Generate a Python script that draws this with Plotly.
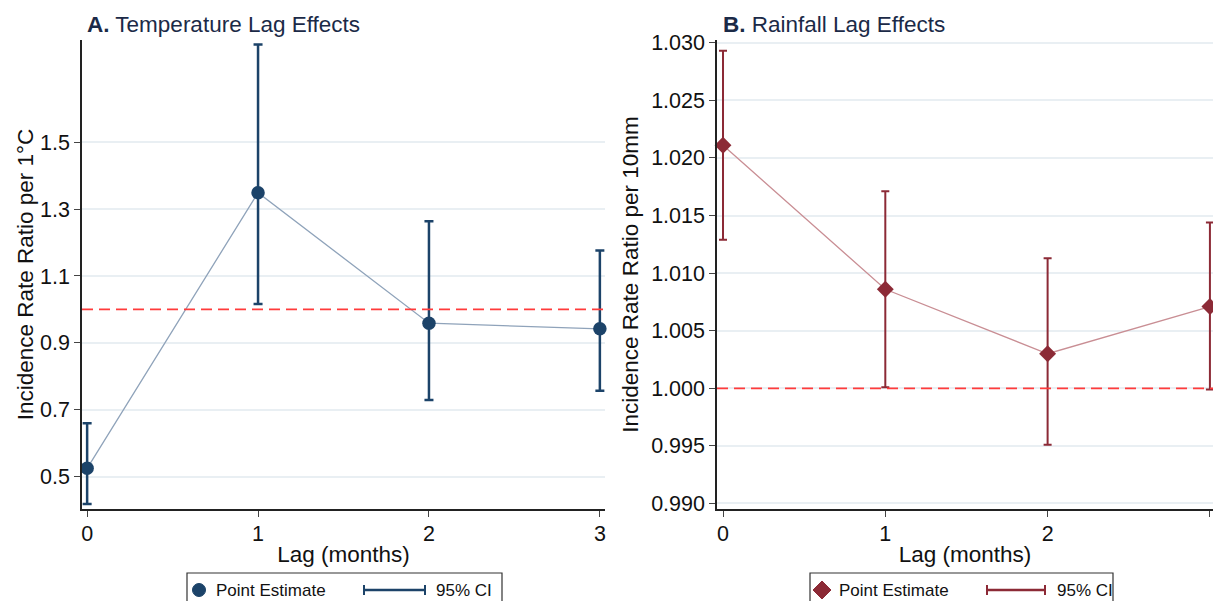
import plotly.graph_objects as go

# ---------------- data ----------------
lags = [0, 1, 2, 3]
lag_ticks = ["0", "1", "2", "3"]

temp_irr = [0.525, 1.349, 0.959, 0.942]
temp_lo = [0.418, 1.016, 0.729, 0.757]
temp_hi = [0.660, 1.792, 1.264, 1.176]
temp_ticks = [0.5, 0.7, 0.9, 1.1, 1.3, 1.5]

rain_irr = [1.0211, 1.0086, 1.0030, 1.0071]
rain_lo = [1.0129, 1.0001, 0.9951, 0.9999]
rain_hi = [1.0293, 1.0171, 1.0113, 1.0144]
rain_ticks = [0.990, 0.995, 1.000, 1.005, 1.010, 1.015, 1.020, 1.025, 1.030]

W, H = 1213, 601
FONT = "Liberation Sans, Arial, sans-serif"
NAVY = "#1c4369"
NAVY_LINE = "#8fa3ba"
RED = "#8c2a36"
RED_LINE = "#c98e94"
REF = "#ff3b3b"
GRID = "#e9eff3"


def px(x):
    return x / W


def py(y):
    return 1 - y / H


fig = go.Figure()

# Panel A
fig.add_trace(go.Scatter(x=lags, y=temp_irr, mode="lines", line=dict(color=NAVY_LINE, width=1.3),
                         xaxis="x", yaxis="y", showlegend=False, hoverinfo="skip", cliponaxis=False))
fig.add_trace(go.Scatter(
    x=lags, y=temp_irr, mode="markers", name="Point Estimate",
    marker=dict(color=NAVY, size=13.5, symbol="circle"),
    error_y=dict(type="data", symmetric=False,
                 array=[h - m for h, m in zip(temp_hi, temp_irr)],
                 arrayminus=[m - l for m, l in zip(temp_irr, temp_lo)],
                 color=NAVY, thickness=2.5, width=4.5),
    xaxis="x", yaxis="y", showlegend=False, cliponaxis=False))

# Panel B
fig.add_trace(go.Scatter(x=lags, y=rain_irr, mode="lines", line=dict(color=RED_LINE, width=1.3),
                         xaxis="x2", yaxis="y2", showlegend=False, hoverinfo="skip", cliponaxis=False))
fig.add_trace(go.Scatter(
    x=lags, y=rain_irr, mode="markers", name="Point Estimate",
    marker=dict(color=RED, size=13, symbol="diamond"),
    error_y=dict(type="data", symmetric=False,
                 array=[h - m for h, m in zip(rain_hi, rain_irr)],
                 arrayminus=[m - l for m, l in zip(rain_irr, rain_lo)],
                 color=RED, thickness=2, width=4),
    xaxis="x2", yaxis="y2", showlegend=False, cliponaxis=False))

tickfont = dict(family=FONT, size=21.5, color="#111111")
titlefont = dict(family=FONT, size=22.5, color="#111111")

common_x = dict(tickmode="array", tickvals=lags, ticktext=lag_ticks, showgrid=False, zeroline=False,
                showline=True, linecolor="#222222", linewidth=1.5, ticks="outside", ticklen=6,
                tickcolor="#444444", tickwidth=1.2, tickfont=tickfont, automargin=False,
                ticklabelstandoff=-2)
common_y = dict(showgrid=True, gridcolor=GRID, gridwidth=2, zeroline=False, showline=True,
                linecolor="#222222", linewidth=1.5, ticks="outside", ticklen=6, tickcolor="#444444",
                tickwidth=1.2, tickfont=tickfont, automargin=False)

ydom = [py(509), py(40)]

fig.update_layout(
    width=W, height=H, margin=dict(l=0, r=0, t=0, b=0, pad=0, autoexpand=False),
    plot_bgcolor="white", paper_bgcolor="white", showlegend=False,
    font=dict(family=FONT),
    xaxis=dict(common_x, domain=[px(82), px(605)], range=[-0.03, 3.03], anchor="y",
               title=dict(text="Lag (months)", font=titlefont, standoff=2)),
    yaxis=dict(common_y, domain=ydom, range=[0.4034, 1.8055], anchor="x",
               tickmode="array", tickvals=temp_ticks, ticktext=[f"{v:.1f}" for v in temp_ticks],
               title=dict(text="Incidence Rate Ratio per 1°C", font=titlefont, standoff=0)),
    xaxis2=dict(common_x, domain=[px(717), 1.0], range=[-0.037, 3.019], anchor="y2",
                title=dict(text="Lag (months)", font=titlefont, standoff=2)),
    yaxis2=dict(common_y, domain=ydom, range=[0.98952, 1.03024], anchor="x2",
                tickmode="array", tickvals=rain_ticks, ticktext=[f"{v:.3f}" for v in rain_ticks],
                title=dict(text="Incidence Rate Ratio per 10mm", font=titlefont, standoff=6)),
)

# reference lines at IRR = 1
shapes = []
for xr, yr in (("x", "y"), ("x2", "y2")):
    shapes.append(dict(type="line", xref=f"{xr} domain", x0=0, x1=1, yref=yr, y0=1.0, y1=1.0,
                       line=dict(color=REF, width=1.7, dash="11px,6px"), layer="above"))

# panel titles
annotations = [
    dict(text="<b>A.</b> Temperature Lag Effects", x=px(85), y=py(25), xref="paper", yref="paper",
         xanchor="left", yanchor="middle", showarrow=False, font=dict(family=FONT, size=22.5, color="#1b2a47")),
    dict(text="<b>B.</b> Rainfall Lag Effects", x=px(721), y=py(25), xref="paper", yref="paper",
         xanchor="left", yanchor="middle", showarrow=False, font=dict(family=FONT, size=22.5, color="#1b2a47")),
]


# legends (box open at the bottom edge, key symbols, labels) -- all kept inside the paper
def add_legend(x0, x1, sym_x, text1_x, ci_x0, ci_x1, text2_x, color, symbol):
    yc = 590
    box = (f"M {px(x0):.5f} 0 L {px(x0):.5f} {py(573):.5f} L {px(x1):.5f} {py(573):.5f} "
           f"L {px(x1):.5f} 0")
    shapes.append(dict(type="path", xref="paper", yref="paper", path=box,
                       line=dict(color="#333333", width=1.2), layer="above"))
    if symbol == "circle":
        shapes.append(dict(type="circle", xref="paper", yref="paper", x0=px(sym_x - 6.5), x1=px(sym_x + 6.5),
                           y0=py(yc + 6.5), y1=py(yc - 6.5), fillcolor=color, line=dict(color=color, width=1),
                           layer="above"))
    else:
        d = 9
        path = (f"M {px(sym_x):.5f} {py(yc - d):.5f} L {px(sym_x + d):.5f} {py(yc):.5f} "
                f"L {px(sym_x):.5f} {py(yc + d):.5f} L {px(sym_x - d):.5f} {py(yc):.5f} Z")
        shapes.append(dict(type="path", xref="paper", yref="paper", path=path, fillcolor=color,
                           line=dict(color=color, width=1), layer="above"))
    shapes.append(dict(type="line", xref="paper", yref="paper", x0=px(ci_x0), x1=px(ci_x1), y0=py(yc), y1=py(yc),
                       line=dict(color=color, width=2.5), layer="above"))
    for cx in (ci_x0, ci_x1):
        shapes.append(dict(type="line", xref="paper", yref="paper", x0=px(cx), x1=px(cx), y0=py(yc - 5),
                           y1=py(yc + 5), line=dict(color=color, width=2), layer="above"))
    annotations.append(dict(text="Point Estimate", x=px(text1_x), y=py(yc), xref="paper", yref="paper",
                            xanchor="left", yanchor="middle", showarrow=False,
                            font=dict(family=FONT, size=17, color="#111111")))
    annotations.append(dict(text="95% CI", x=px(text2_x), y=py(yc), xref="paper", yref="paper",
                            xanchor="left", yanchor="middle", showarrow=False,
                            font=dict(family=FONT, size=17, color="#111111")))


add_legend(187, 502, 199, 214, 364, 425, 434, NAVY, "circle")
add_legend(810, 1113, 822, 837, 987, 1045, 1055, RED, "diamond")

fig.update_layout(shapes=shapes, annotations=annotations)

post = (
    "document.documentElement.style.margin='0';"
    "document.documentElement.style.padding='0';"
    "document.documentElement.style.overflow='hidden';"
    "document.body.style.margin='0';"
    "document.body.style.padding='0';"
    "document.body.style.overflow='hidden';"
    "var gd=document.getElementById('{plot_id}');"
    "gd.style.position='fixed';gd.style.left='0px';gd.style.top='0px';"
)

fig.write_html("out.html", config={"displayModeBar": False}, post_script=post)
